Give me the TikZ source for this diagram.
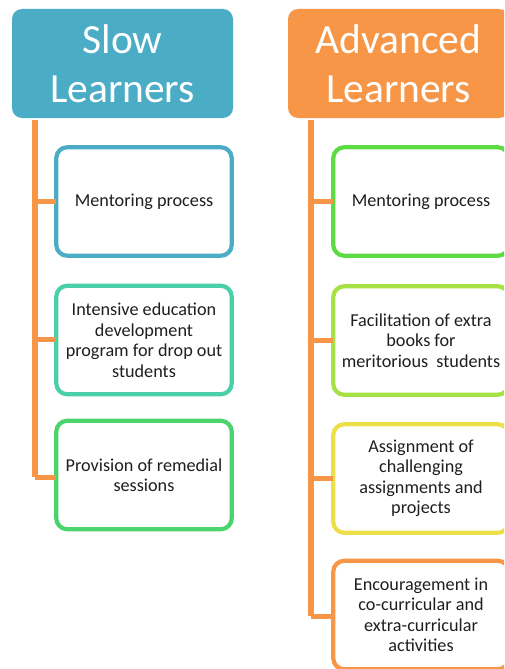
\documentclass[tikz,border=0pt]{standalone}
\usepackage{fontspec}
\setmainfont{Carlito}
\definecolor{hteal}{HTML}{4BACC6}
\definecolor{horange}{HTML}{F79646}
\definecolor{ctealgreen}{HTML}{4BCFA8}
\definecolor{cgreen}{HTML}{4BD46C}
\definecolor{cgreenb}{HTML}{5CDB42}
\definecolor{clime}{HTML}{A6E245}
\definecolor{cyellow}{HTML}{EDDF4A}
\definecolor{cline}{HTML}{F79646}
\begin{document}
\begin{tikzpicture}[x=1pt,y=-1pt,
  header/.style={rectangle, rounded corners=10pt, minimum width=221pt, minimum height=109pt,
    inner sep=0pt, outer sep=0pt, text=white, align=center,
    font=\fontsize{41.5}{48.5}\selectfont},
  itembox/.style={rectangle, rounded corners=11pt, draw=#1, line width=4.2pt, fill=white,
    minimum width=175.5pt, minimum height=108.5pt, inner sep=0pt, outer sep=0pt,
    align=center, text=black!88, font=\fontsize{18.2}{20.5}\selectfont},
  trunk/.style={draw=cline, line width=5.5pt},
  branch/.style={draw=cline, line width=5pt}]
\useasboundingbox (0,0) rectangle (504,669);
\clip (0,0) rectangle (504,669);
\coordinate (lx) at (35,0);
\coordinate (rx) at (311,0);
% headers
\node[header, fill=hteal] (lh) at (122.5,63.5) {Slow\\Learners};
\node[header, fill=horange] (rh) at (398.5,63.5) {Advanced\\Learners};
% trunks (drawn first, under boxes)
\coordinate (lend) at (35,477);
\coordinate (rend) at (311,616);
\draw[trunk] ([yshift=-2pt]lh.south -| lx) -- (lend);
\draw[trunk] ([yshift=-2pt]rh.south -| rx) -- (rend);
% left boxes
\node[itembox=hteal] (l1) at (144,201.5) {Mentoring process};
\node[itembox=ctealgreen] (l2) at (144,340) {Intensive education\\development\\program for drop out\\students};
\node[itembox=cgreen] (l3) at (144,475) {Provision of remedial\\sessions};
% right boxes
\node[itembox=cgreenb] (r1) at (421,201.5) {Mentoring process};
\node[itembox=clime] (r2) at (421,340.5) {Facilitation of extra\\books for\\meritorious\ \ students};
\node[itembox=cyellow] (r3) at (421,478.5) {Assignment of\\challenging\\assignments and\\projects};
\node[itembox=horange] (r4) at (421,615) {Encouragement in\\co-curricular and\\extra-curricular\\activities};
% branches
\draw[branch] (l1.west |- 0,201) -- (lx |- 0,201);
\draw[branch] (l2.west |- 0,339) -- (lx |- 0,339);
\draw[branch] (l3.west |- 0,477) -- (lend);
\draw[branch] (r1.west |- 0,201) -- (rx |- 0,201);
\draw[branch] (r2.west |- 0,340) -- (rx |- 0,340);
\draw[branch] (r3.west |- 0,478) -- (rx |- 0,478);
\draw[branch] (r4.west |- 0,616) -- (rend);
\end{tikzpicture}
\end{document}
